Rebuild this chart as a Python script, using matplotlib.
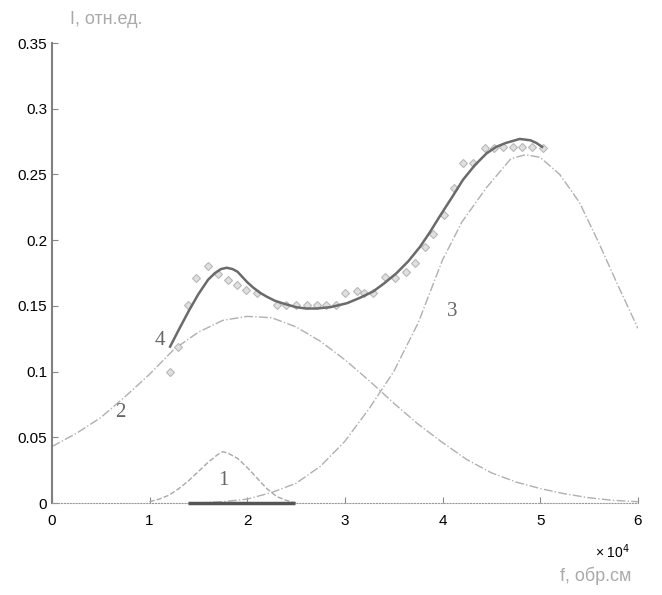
import matplotlib.pyplot as plt

plt.rcParams['font.family'] = ['Liberation Sans', 'DejaVu Sans']

# curve 1 (narrow peak)
x1 = [1.0, 1.1, 1.2, 1.3, 1.4, 1.5, 1.6, 1.7, 1.75, 1.8, 1.9, 2.0, 2.1, 2.2, 2.3, 2.4, 2.5]
y1 = [0.001, 0.003, 0.006, 0.011, 0.017, 0.024, 0.031, 0.037, 0.039, 0.038, 0.034,
      0.027, 0.019, 0.011, 0.005, 0.002, 0.0]

# curve 2 (broad peak)
x2 = [0.0, 0.25, 0.5, 0.75, 1.0, 1.25, 1.5, 1.75, 2.0, 2.25, 2.5, 2.75, 3.0, 3.25,
      3.5, 3.75, 4.0, 4.25, 4.5, 4.75, 5.0, 5.25, 5.5, 5.75, 6.0]
y2 = [0.043, 0.053, 0.065, 0.081, 0.098, 0.117, 0.130, 0.139, 0.142, 0.141, 0.134,
      0.123, 0.109, 0.093, 0.076, 0.060, 0.046, 0.033, 0.023, 0.016, 0.011, 0.007,
      0.004, 0.002, 0.001]

# curve 3 (high-frequency peak)
x3 = [1.5, 1.75, 2.0, 2.25, 2.5, 2.75, 3.0, 3.25, 3.5, 3.75, 4.0, 4.2, 4.45, 4.7,
      4.85, 5.0, 5.2, 5.4, 5.6, 5.8, 6.0]
y3 = [0.0, 0.001, 0.003, 0.008, 0.015, 0.028, 0.047, 0.072, 0.100, 0.137, 0.185,
      0.214, 0.240, 0.262, 0.265, 0.263, 0.250, 0.229, 0.198, 0.165, 0.133]

# curve 4 (sum)
x4 = [1.21, 1.3, 1.4, 1.5, 1.6, 1.67, 1.73, 1.79, 1.85, 1.9, 1.95, 2.0, 2.06, 2.13,
      2.2, 2.28, 2.36, 2.5, 2.6, 2.71, 2.85, 3.02, 3.15, 3.29, 3.4, 3.53, 3.65, 3.77,
      3.87, 3.97, 4.1, 4.21, 4.33, 4.45, 4.55, 4.65, 4.79, 4.9, 4.96, 5.02]
y4 = [0.119, 0.132, 0.146, 0.159, 0.170, 0.175, 0.178, 0.179, 0.178, 0.176, 0.172,
      0.168, 0.164, 0.160, 0.157, 0.154, 0.152, 0.149, 0.148, 0.148, 0.149, 0.152,
      0.156, 0.161, 0.167, 0.175, 0.184, 0.195, 0.206, 0.218, 0.233, 0.246, 0.257,
      0.266, 0.271, 0.274, 0.277, 0.276, 0.274, 0.271]

# measured points
xp = [1.21, 1.29, 1.39, 1.48, 1.60, 1.70, 1.80, 1.89, 1.99, 2.10, 2.30, 2.40, 2.50,
      2.61, 2.71, 2.81, 2.91, 3.0, 3.12, 3.2, 3.29, 3.41, 3.51, 3.63, 3.72, 3.82,
      3.90, 4.02, 4.12, 4.21, 4.31, 4.43, 4.53, 4.62, 4.72, 4.81, 4.92, 5.03]
yp = [0.100, 0.119, 0.151, 0.171, 0.180, 0.174, 0.170, 0.166, 0.162, 0.160, 0.151,
      0.151, 0.151, 0.151, 0.151, 0.151, 0.151, 0.160, 0.161, 0.160, 0.160, 0.172,
      0.171, 0.176, 0.183, 0.195, 0.205, 0.219, 0.240, 0.259, 0.259, 0.270, 0.270,
      0.271, 0.271, 0.271, 0.271, 0.270]

fig = plt.figure(figsize=(6.62, 5.95), dpi=100)
ax = fig.add_axes([0.0785, 0.1546, 0.885, 0.7731])

ax.plot(x2, y2, color='#b0b0b0', lw=1, ls='-.')
ax.plot(x3, y3, color='#b0b0b0', lw=1, ls='-.')
ax.plot(x1, y1, color='#a8a8a8', lw=1, ls='--')
ax.plot(xp, yp, 'D', ms=4.5, mfc='#e0e0e0', mec='#b8b8b8', mew=0.8)
ax.plot(x4, y4, color='#6a6a6a', lw=1.8)
ax.plot([1.39, 2.49], [0, 0], color='#555555', lw=2.5, solid_capstyle='butt',
        clip_on=False, zorder=5)

for txt, tx, ty in [('1', 1.76, 0.0175), ('2', 0.70, 0.069),
                    ('3', 4.10, 0.146), ('4', 1.10, 0.124)]:
    ax.text(tx, ty, txt, family='Liberation Serif', fontsize=15, color='#666666',
            ha='center', va='center')

ax.set_xlim(0, 6)
ax.set_ylim(0, 0.35)
ax.set_xticks([0, 1, 2, 3, 4, 5, 6])
ax.set_yticks([0, 0.05, 0.1, 0.15, 0.2, 0.25, 0.3, 0.35])
ax.set_yticklabels(['0', '0.05', '0.1', '0.15', '0.2', '0.25', '0.3', '0.35'])
ax.tick_params(direction='in', length=4, labelsize=11, colors='#888888',
               labelcolor='black')
ax.tick_params(axis='x', pad=8)
for s in ['top', 'right']:
    ax.spines[s].set_visible(False)
ax.spines['left'].set_color('#808080')
ax.spines['left'].set_linewidth(1.5)
ax.spines['bottom'].set_color('#999999')
ax.spines['bottom'].set_linestyle(':')

fig.text(0.105, 0.968, 'I, отн.ед.', fontsize=13, color='#aaaaaa', va='center')
fig.text(0.925, 0.073, '× 10$^4$', fontsize=10, color='black', ha='center', va='center')
fig.text(0.9, 0.033, 'f, обр.см', fontsize=13, color='#aaaaaa', ha='center', va='center')

fig.savefig('out.png', dpi=100)
